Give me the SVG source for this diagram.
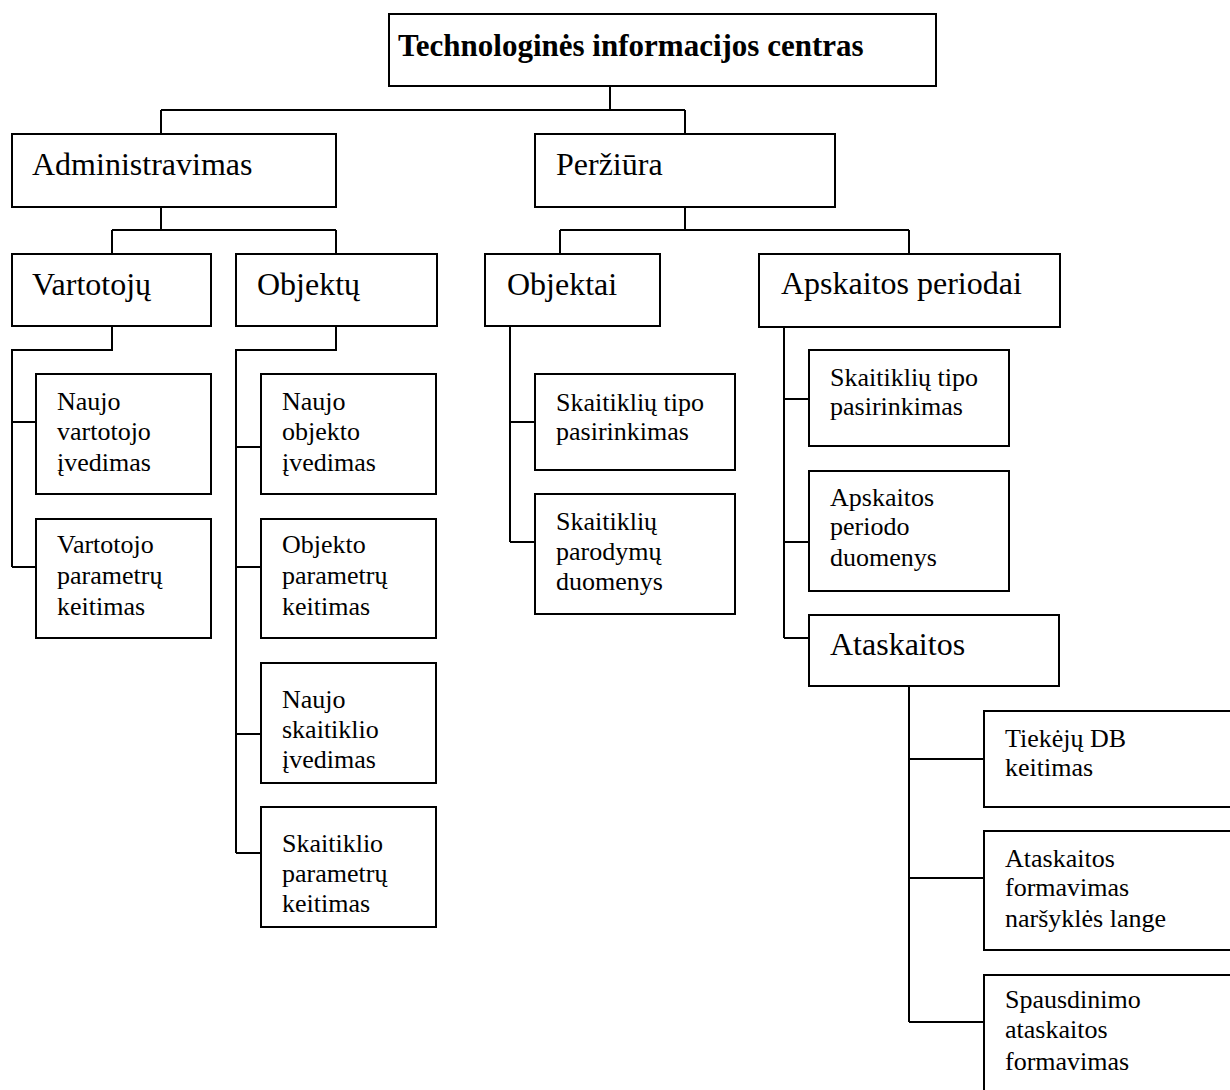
<svg xmlns="http://www.w3.org/2000/svg" width="1230" height="1090" viewBox="0 0 1230 1090">
  <style>
    .box { fill: #ffffff; stroke: #000000; stroke-width: 2; }
    .wire { fill: none; stroke: #000000; stroke-width: 2; }
    .title { font-family: "Liberation Serif", "Times New Roman", serif; font-weight: bold; font-size: 31px; fill: #000000; }
    .big { font-family: "Liberation Serif", "Times New Roman", serif; font-size: 32px; fill: #000000; }
    .small { font-family: "Liberation Serif", "Times New Roman", serif; font-size: 26px; fill: #000000; }
  </style>
  <rect x="0" y="0" width="1230" height="1090" fill="#ffffff"/>

  <!-- connectors -->
  <g id="connectors" class="wire">
    <path d="M610 86 V110 M161 110 H685 M161 110 V134 M685 110 V134"/>
    <path d="M161 207 V230 M112 230 H336 M112 230 V254 M336 230 V254"/>
    <path d="M685 207 V230 M560 230 H909 M560 230 V254 M909 230 V254"/>
    <path d="M112 326 V350 H12 V567 M12 422 H36 M12 567 H36"/>
    <path d="M336 326 V350 H236 V853 M236 447 H261 M236 567 H261 M236 734 H261 M236 853 H261"/>
    <path d="M510 326 V542 M510 422 H535 M510 542 H535"/>
    <path d="M784 327 V638 M784 399 H809 M784 542 H809 M784 638 H809"/>
    <path d="M909 686 V1022 M909 759 H984 M909 878 H984 M909 1022 H984"/>
  </g>

  <!-- root -->
  <g id="root">
    <rect class="box" x="389" y="14" width="547" height="72"/>
    <text class="title" x="398" y="56">Technologinės informacijos centras</text>
  </g>

  <!-- level 1 -->
  <g id="administravimas">
    <rect class="box" x="12" y="134" width="324" height="73"/>
    <text class="big" x="32" y="175">Administravimas</text>
  </g>
  <g id="perziura">
    <rect class="box" x="535" y="134" width="300" height="73"/>
    <text class="big" x="556" y="175">Peržiūra</text>
  </g>

  <!-- level 2 -->
  <g id="vartotoju">
    <rect class="box" x="12" y="254" width="199" height="72"/>
    <text class="big" x="32" y="295">Vartotojų</text>
  </g>
  <g id="objektu">
    <rect class="box" x="236" y="254" width="201" height="72"/>
    <text class="big" x="257" y="295">Objektų</text>
  </g>
  <g id="objektai">
    <rect class="box" x="485" y="254" width="175" height="72"/>
    <text class="big" x="507" y="295">Objektai</text>
  </g>
  <g id="apskaitos-periodai">
    <rect class="box" x="759" y="254" width="301" height="73"/>
    <text class="big" x="781" y="294">Apskaitos periodai</text>
  </g>

  <!-- Vartotojų children -->
  <g id="naujo-vartotojo-ivedimas">
    <rect class="box" x="36" y="374" width="175" height="120"/>
    <text class="small"><tspan x="57" y="410">Naujo</tspan><tspan x="57" y="440">vartotojo</tspan><tspan x="57" y="471">įvedimas</tspan></text>
  </g>
  <g id="vartotojo-parametru-keitimas">
    <rect class="box" x="36" y="519" width="175" height="119"/>
    <text class="small"><tspan x="57" y="553">Vartotojo</tspan><tspan x="57" y="584">parametrų</tspan><tspan x="57" y="615">keitimas</tspan></text>
  </g>

  <!-- Objektų children -->
  <g id="naujo-objekto-ivedimas">
    <rect class="box" x="261" y="374" width="175" height="120"/>
    <text class="small"><tspan x="282" y="410">Naujo</tspan><tspan x="282" y="440">objekto</tspan><tspan x="282" y="471">įvedimas</tspan></text>
  </g>
  <g id="objekto-parametru-keitimas">
    <rect class="box" x="261" y="519" width="175" height="119"/>
    <text class="small"><tspan x="282" y="553">Objekto</tspan><tspan x="282" y="584">parametrų</tspan><tspan x="282" y="615">keitimas</tspan></text>
  </g>
  <g id="naujo-skaitiklio-ivedimas">
    <rect class="box" x="261" y="663" width="175" height="120"/>
    <text class="small"><tspan x="282" y="708">Naujo</tspan><tspan x="282" y="738">skaitiklio</tspan><tspan x="282" y="768">įvedimas</tspan></text>
  </g>
  <g id="skaitiklio-parametru-keitimas">
    <rect class="box" x="261" y="807" width="175" height="120"/>
    <text class="small"><tspan x="282" y="852">Skaitiklio</tspan><tspan x="282" y="882">parametrų</tspan><tspan x="282" y="912">keitimas</tspan></text>
  </g>

  <!-- Objektai children -->
  <g id="skaitikliu-tipo-pasirinkimas-1">
    <rect class="box" x="535" y="374" width="200" height="96"/>
    <text class="small"><tspan x="556" y="411">Skaitiklių tipo</tspan><tspan x="556" y="440">pasirinkimas</tspan></text>
  </g>
  <g id="skaitikliu-parodymu-duomenys">
    <rect class="box" x="535" y="494" width="200" height="120"/>
    <text class="small"><tspan x="556" y="530">Skaitiklių</tspan><tspan x="556" y="560">parodymų</tspan><tspan x="556" y="590">duomenys</tspan></text>
  </g>

  <!-- Apskaitos periodai children -->
  <g id="skaitikliu-tipo-pasirinkimas-2">
    <rect class="box" x="809" y="350" width="200" height="96"/>
    <text class="small"><tspan x="830" y="386">Skaitiklių tipo</tspan><tspan x="830" y="415">pasirinkimas</tspan></text>
  </g>
  <g id="apskaitos-periodo-duomenys">
    <rect class="box" x="809" y="471" width="200" height="120"/>
    <text class="small"><tspan x="830" y="506">Apskaitos</tspan><tspan x="830" y="535">periodo</tspan><tspan x="830" y="566">duomenys</tspan></text>
  </g>
  <g id="ataskaitos">
    <rect class="box" x="809" y="615" width="250" height="71"/>
    <text class="big" x="830" y="655">Ataskaitos</text>
  </g>

  <!-- Ataskaitos children -->
  <g id="tiekeju-db-keitimas">
    <rect class="box" x="984" y="711" width="260" height="96"/>
    <text class="small"><tspan x="1005" y="747">Tiekėjų DB</tspan><tspan x="1005" y="776">keitimas</tspan></text>
  </g>
  <g id="ataskaitos-formavimas-narsykles-lange">
    <rect class="box" x="984" y="831" width="260" height="119"/>
    <text class="small"><tspan x="1005" y="867">Ataskaitos</tspan><tspan x="1005" y="896">formavimas</tspan><tspan x="1005" y="927">naršyklės lange</tspan></text>
  </g>
  <g id="spausdinimo-ataskaitos-formavimas">
    <rect class="box" x="984" y="975" width="260" height="130"/>
    <text class="small"><tspan x="1005" y="1008">Spausdinimo</tspan><tspan x="1005" y="1038">ataskaitos</tspan><tspan x="1005" y="1070">formavimas</tspan></text>
  </g>
</svg>
